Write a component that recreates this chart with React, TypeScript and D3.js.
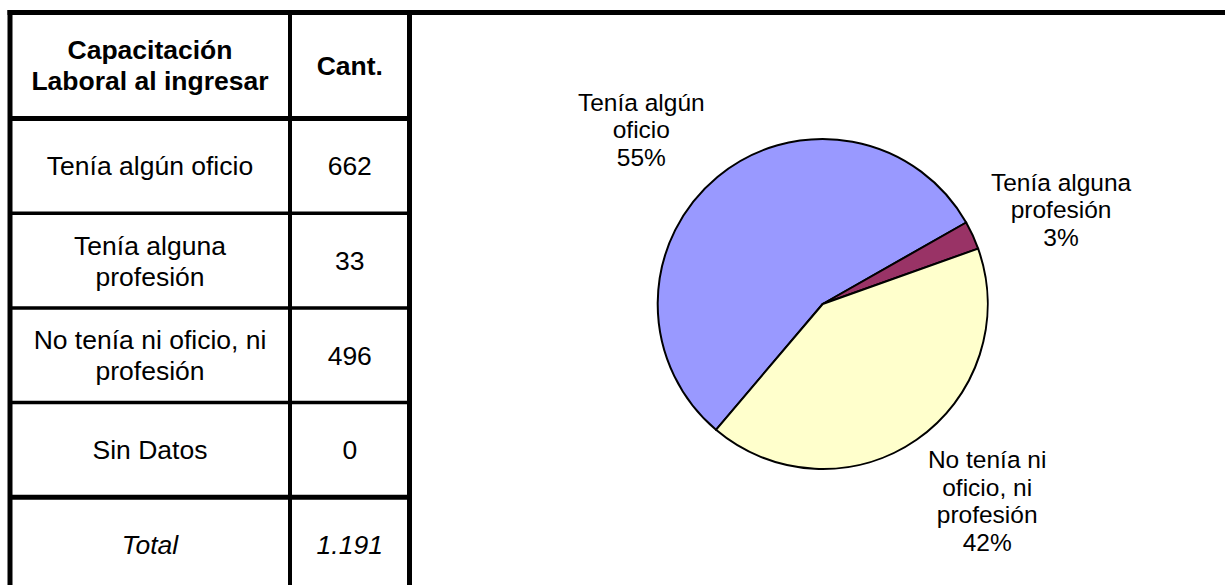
import React, { useRef, useEffect } from 'react';
import * as d3 from 'd3';

// datos de la tabla y del gráfico
const categories = ['Tenía algún oficio', 'Tenía alguna profesión', 'No tenía ni oficio, ni profesión', 'Sin Datos'];
const counts = [662, 33, 496, 0];
const tableLabels = [['Tenía algún oficio'], ['Tenía alguna', 'profesión'], ['No tenía ni oficio, ni', 'profesión'], ['Sin Datos']];
const pieLabels = [['Tenía algún', 'oficio'], ['Tenía alguna', 'profesión'], ['No tenía ni', 'oficio, ni', 'profesión'], []];
const piePercents = ['55%', '3%', '42%', '0%'];
const headerLines = ['Capacitación', 'Laboral al ingresar'];
const countHeader = 'Cant.';
const totalLabel = 'Total';
const sliceColors = ['#9999FF', '#993366', '#FFFFCC', '#00CCFF'];

const App = () => {
  const svgRef = useRef<SVGSVGElement>(null);

  useEffect(() => {
    const width = 1225;
    const height = 585;
    const font = '"Liberation Sans", Arial, sans-serif';
    const fs = 26.5;
    const lineH = 31;

    const svg = d3.select(svgRef.current).attr('width', width).attr('height', height);
    svg.selectAll('*').remove();

    const es = d3.formatLocale({ decimal: ',', thousands: '.', grouping: [3], currency: ['', ''] });
    const fmt = es.format(',');

    // columnas y filas de la tabla
    const left = 10, colSep = 290, tableRight = 409.5;
    const top = 12.5, headerBottom = 118.5;
    const rows = [...categories, totalLabel];
    const y = d3.scaleBand<string>().domain(rows).range([headerBottom, 592]);

    const g = svg.append('g');

    const cellText = (lines: string[], cx: number, cy: number, weight = 'normal', style = 'normal') => {
      const t = g.append('text')
        .attr('text-anchor', 'middle')
        .attr('font-family', font)
        .attr('font-size', fs)
        .attr('font-weight', weight)
        .attr('font-style', style)
        .attr('fill', '#000');
      const n = lines.length;
      lines.forEach((l, i) => {
        t.append('tspan')
          .attr('x', cx)
          .attr('y', cy + fs * 0.358 + (i - (n - 1) / 2) * lineH)
          .text(l);
      });
    };

    const c1 = (left + colSep) / 2;
    const c2 = (colSep + tableRight) / 2;
    const hc = (top + headerBottom) / 2;
    cellText(headerLines, c1, hc, 'bold');
    cellText([countHeader], c2, hc, 'bold');

    categories.forEach((c, i) => {
      const cy = y(c)! + y.bandwidth() / 2;
      cellText(tableLabels[i], c1, cy);
      cellText([fmt(counts[i])], c2, cy);
    });
    const ty = y(totalLabel)! + y.bandwidth() / 2;
    cellText([totalLabel], c1, ty, 'normal', 'italic');
    cellText([fmt(d3.sum(counts))], c2, ty, 'normal', 'italic');

    // líneas de la tabla
    const line = (x1: number, y1: number, x2: number, y2: number, w: number) =>
      g.append('line').attr('x1', x1).attr('y1', y1).attr('x2', x2).attr('y2', y2)
        .attr('stroke', '#000').attr('stroke-width', w);

    rows.slice(1).forEach(r => {
      const w = r === totalLabel ? 5 : 3.5;
      line(left, y(r)!, tableRight, y(r)!, w);
    });
    line(left, headerBottom, tableRight, headerBottom, 5);
    line(left, top - 2.5, left, 600, 5);
    line(colSep, top, colSep, 600, 4);
    line(tableRight, top, tableRight, 600, 5);
    line(left - 2.5, top, width + 5, top, 5);

    // gráfico de torta
    const cx = 822.7, cy = 304, R = 165;
    const start = (220.3 * Math.PI) / 180;
    const pie = d3.pie<number>().sort(null).value(d => d)
      .startAngle(start).endAngle(start + 2 * Math.PI);
    const arcs = pie(counts);
    const arc = d3.arc<d3.PieArcDatum<number>>().innerRadius(0).outerRadius(R);

    const pg = svg.append('g').attr('transform', `translate(${cx},${cy})`);
    pg.selectAll('path')
      .data(arcs.filter(a => a.value > 0))
      .join('path')
      .attr('d', arc)
      .attr('fill', d => sliceColors[d.index])
      .attr('stroke', '#000')
      .attr('stroke-width', 2)
      .attr('stroke-linejoin', 'round');

    // etiquetas de la torta, fuera del círculo
    const lfs = 24.5, llh = 27.5, gap = 20, kx = 1.8, ky = 1.0;
    arcs.filter(a => a.value > 0).forEach(a => {
      const lines = [...pieLabels[a.index], piePercents[a.index]];
      const t = pg.append('text')
        .attr('text-anchor', 'middle')
        .attr('font-family', font)
        .attr('font-size', lfs)
        .attr('fill', '#000');
      lines.forEach((l, i) => {
        t.append('tspan').attr('x', 0).attr('y', i * llh).text(l);
      });
      const bb = (t.node() as SVGTextElement).getBBox();
      const mid = (a.startAngle + a.endAngle) / 2;
      const ux = Math.sin(mid), uy = -Math.cos(mid);
      const ax = ux * (R + gap), ay = uy * (R + gap);
      const sx = Math.max(-1, Math.min(1, ux * kx));
      const sy = Math.max(-1, Math.min(1, uy * ky));
      const tx = ax + sx * bb.width / 2;
      const tyy = ay + sy * bb.height / 2;
      t.attr('transform', `translate(${tx - (bb.x + bb.width / 2)},${tyy - (bb.y + bb.height / 2)})`);
    });
  }, []);

  return (
    <svg ref={svgRef} style={{ position: 'absolute', left: 0, top: 0, background: '#fff' }}></svg>
  );
};

export default App;
